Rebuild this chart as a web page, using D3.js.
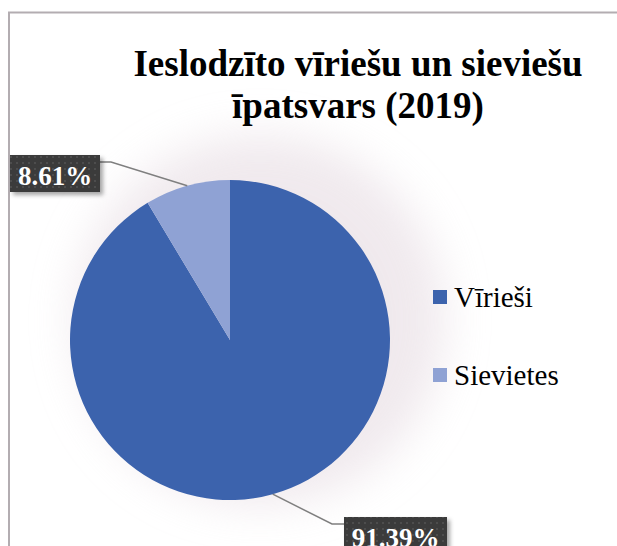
<!DOCTYPE html>
<html>
<head>
<meta charset="utf-8">
<script src="https://cdn.jsdelivr.net/npm/d3@7"></script>
<style>
  body { margin: 0; background: #fff; }
</style>
</head>
<body>
<main></main>
<script>
// Ieslodzīto īpatsvars pēc dzimuma, 2019
const categories = ["Vīrieši", "Sievietes"]
const shares = [91.39, 8.61]
const labelTexts = ["91.39%", "8.61%"]
const colors = ["#3c63ad", "#8fa2d4"]

const svgWidth = 617
const svgHeight = 546

const cx = 230
const cy = 340
const radius = 160

const serif = "'Liberation Serif', 'Times New Roman', serif"

let svg = d3.select("main")
    .append("svg")
    .attr("width", svgWidth)
    .attr("height", svgHeight)
    .style("display", "block")

let defs = svg.append("defs")

defs.append("filter")
    .attr("id", "glow")
    .attr("x", "-50%").attr("y", "-50%")
    .attr("width", "200%").attr("height", "200%")
    .append("feGaussianBlur")
    .attr("stdDeviation", 22)

let shadow = defs.append("filter")
    .attr("id", "boxShadow")
    .attr("x", "-20%").attr("y", "-20%")
    .attr("width", "150%").attr("height", "160%")
shadow.append("feDropShadow")
    .attr("dx", 3).attr("dy", 3)
    .attr("stdDeviation", 2)
    .attr("flood-color", "#000")
    .attr("flood-opacity", 0.35)

let dots = defs.append("pattern")
    .attr("id", "dots")
    .attr("width", 6).attr("height", 6)
    .attr("patternUnits", "userSpaceOnUse")
dots.append("rect").attr("width", 6).attr("height", 6).attr("fill", "#3b3b3b")
dots.append("circle").attr("cx", 3).attr("cy", 3).attr("r", 0.9).attr("fill", "#555")

// chart frame
svg.append("path")
    .attr("d", `M9,${svgHeight} V12.5 H${svgWidth}`)
    .attr("fill", "none")
    .attr("stroke", "#b3adb1")
    .attr("stroke-width", 2)

// soft glow behind plot area
svg.append("circle")
    .attr("cx", cx + 30)
    .attr("cy", cy - 20)
    .attr("r", radius + 25)
    .attr("fill", "#e6dbe2")
    .attr("opacity", 0.6)
    .attr("filter", "url(#glow)")

// title
let title = svg.append("text")
    .attr("text-anchor", "middle")
    .attr("font-family", serif)
    .attr("font-weight", "bold")
    .attr("font-size", 37)
    .attr("fill", "#000")
title.append("tspan").attr("x", 358).attr("y", 76).text("Ieslodzīto vīriešu un sieviešu")
title.append("tspan").attr("x", 358).attr("y", 118).text("īpatsvars (2019)")

// pie
let data = categories.map((c, i) => ({ name: c, value: shares[i], label: labelTexts[i], color: colors[i] }))

let pie = d3.pie()
    .sort(null)
    .value(d => d.value)

let arc = d3.arc()
    .innerRadius(0)
    .outerRadius(radius)

let arcs = pie(data)

let graph = svg.append("g")
    .attr("transform", `translate(${cx}, ${cy})`)

graph.selectAll("path.slice")
    .data(arcs)
    .enter()
    .append("path")
    .attr("class", "slice")
    .attr("d", arc)
    .attr("fill", d => d.data.color)

// data labels with leader lines
let edge = d3.arc().innerRadius(radius).outerRadius(radius)

const labelLayout = {
    "Vīrieši": { x: 114, y: 177, w: 103, h: 38, side: "left" },
    "Sievietes": { x: -220, y: -185, w: 90, h: 37, side: "right" }
}

arcs.forEach(a => {
    let p = edge.centroid(a)
    let box = labelLayout[a.data.name]
    let attachX = box.side === "left" ? box.x : box.x + box.w
    let attachY = box.y + 7
    let elbowX = box.side === "left" ? attachX - 12 : attachX + 11

    graph.append("polyline")
        .attr("points", [[p[0], p[1]], [elbowX, attachY], [attachX, attachY]].map(q => q.join(",")).join(" "))
        .attr("fill", "none")
        .attr("stroke", "#7f7f7f")
        .attr("stroke-width", 1.5)

    graph.append("rect")
        .attr("x", box.x)
        .attr("y", box.y)
        .attr("width", box.w)
        .attr("height", box.h)
        .attr("fill", "url(#dots)")
        .attr("filter", "url(#boxShadow)")

    graph.append("text")
        .attr("x", box.x + box.w / 2)
        .attr("y", box.y + 30)
        .attr("text-anchor", "middle")
        .attr("font-family", serif)
        .attr("font-weight", "bold")
        .attr("font-size", 27)
        .attr("fill", "#fff")
        .text(a.data.label)
})

// legend
let legendY = d3.scaleBand()
    .domain(categories)
    .range([258, 414])

let legend = svg.append("g")

categories.forEach((c, i) => {
    let y = legendY(c) + legendY.bandwidth() / 2
    legend.append("rect")
        .attr("x", 433)
        .attr("y", y - 7)
        .attr("width", 14)
        .attr("height", 14)
        .attr("fill", colors[i])
    legend.append("text")
        .attr("x", 454)
        .attr("y", y + 10)
        .attr("font-family", serif)
        .attr("font-size", 29)
        .attr("fill", "#000")
        .text(c)
})
</script>
</body>
</html>
